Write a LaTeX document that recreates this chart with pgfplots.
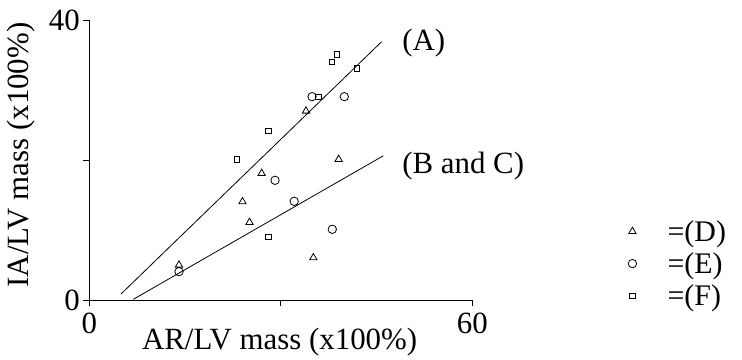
\documentclass[border=0pt]{standalone}
\usepackage{fontspec}
\setmainfont{Liberation Serif}
\usepackage{pgfplots}
\pgfplotsset{compat=1.18}
\begin{document}
\begin{tikzpicture}[x=1bp,y=1bp]
\begin{axis}[
  x=6.383bp, y=7bp,
  xmin=0, xmax=60, ymin=0, ymax=40,
  clip=false,
  axis x line=bottom, axis y line=left,
  axis line style={-, line width=0.8bp},
  tick align=outside, major tick length=6bp,
  tick style={black, line width=0.8bp},
  xtick={0,30,60}, xticklabels={0,,60},
  ytick={0,20,40}, yticklabels={0,,40},
  xticklabel style={yshift=-3bp},
  /pgf/number format/assume math mode=true,
  font=\fontsize{31}{35}\selectfont,
  xlabel={AR/LV mass (x100\%)},
  ylabel={IA/LV mass (x100\%)},
  xlabel style={at={(axis description cs:0.497,-0.15)}, anchor=center},
  ylabel style={at={(axis description cs:-0.178,0.518)}, anchor=center},
  legend style={at={(axis cs:84.4,5.2)}, anchor=west, draw=none, fill=none,
    inner sep=0pt, row sep=6bp, column sep=29bp,
    font=\fontsize{30}{34}\selectfont, cells={anchor=west}},
  legend image code/.code={\draw[mark repeat=2,mark phase=2,#1] plot coordinates {(0bp,0bp)(7bp,0bp)(14bp,0bp)};},
]
\coordinate (O) at (axis cs:0,0);
\addplot[forget plot, black, line width=0.8bp] coordinates {(4.97,0.86) (45.8,36.9)};
\addplot[forget plot, black, line width=0.8bp] coordinates {(6.9,0.1) (46.06,20.6)};
\addplot[only marks, mark=triangle, mark size=4.2bp, black, line width=0.8bp] coordinates {
(33.95,27.0) (39.06,20.1) (27.0,18.1) (24.0,14.05) (25.1,11.1) (35.1,6.05) (14.05,5.0)};
\addlegendentry{=(D)}
\addplot[only marks, mark=o, mark size=4.2bp, black, line width=0.8bp] coordinates {
(34.9,29.05) (39.95,29.05) (29.1,17.1) (32.1,14.1) (38.07,10.1) (14.05,4.05)};
\addlegendentry{=(E)}
\addplot[only marks, mark=square, mark size=2.7bp, black, line width=0.8bp] coordinates {
(38.75,35.1) (37.97,34.05) (41.9,33.1) (35.9,29.05) (28.05,24.14) (23.1,20.1) (28.05,9.05)};
\addlegendentry{=(F)}
\node[anchor=base west, inner sep=0pt] at (axis cs:49,35.7) {(A)};
\node[anchor=base west, inner sep=0pt] at (axis cs:49,18.1) {(B and C)};
\end{axis}
\pgfresetboundingbox
\path (O) ++(-89.3,-59) rectangle ++(742,359);
\end{tikzpicture}
\end{document}
